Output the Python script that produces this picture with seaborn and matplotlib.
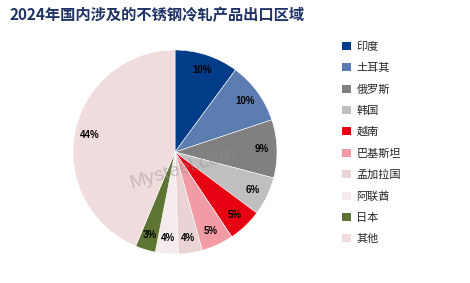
import matplotlib
matplotlib.use("Agg")
import matplotlib.pyplot as plt
from matplotlib.patches import Patch
import seaborn as sns

# Export share by destination (percent), 2024 cold-rolled stainless steel
countries = ["印度", "土耳其", "俄罗斯", "韩国", "越南", "巴基斯坦", "孟加拉国", "阿联酋", "日本", "其他"]
shares = [10.1, 9.8, 9.2, 6.1, 5.4, 5.1, 3.8, 3.6, 3.2, 43.7]
colors = ["#003C87", "#5B7DB1", "#808080", "#BFBFBF", "#E60012",
          "#F19CA5", "#E9D3D5", "#F4ECEC", "#5E7432", "#F0DCDD"]
title = "2024年国内涉及的不锈钢冷轧产品出口区域"

sns.set_theme(style="white")
plt.rcParams["font.family"] = ["Noto Sans CJK SC", "DejaVu Sans"]

W, H = 470, 283
fig = plt.figure(figsize=(W / 100, H / 100), dpi=100)
fig.patch.set_facecolor("white")

# pie axes: centre (175, 152) px, radius 102 px
cx, cy, r = 175, 152, 102
ax = fig.add_axes([(cx - r) / W, (H - cy - r) / H, 2 * r / W, 2 * r / H])
palette = sns.color_palette(colors)
wedges, texts, autotexts = ax.pie(
    shares, colors=palette, startangle=90, counterclock=False,
    autopct="%.0f%%", pctdistance=0.85,
    wedgeprops=dict(linewidth=0.4, edgecolor="white"),
    textprops=dict(fontsize=7, fontweight="bold", color="black",
                   family=["Liberation Sans", "DejaVu Sans"]),
)
ax.set_xlim(-1, 1)
ax.set_ylim(-1, 1)
ax.set_aspect("equal")
ax.axis("off")

# faint site watermark across the pie
ax.text(0.08, -0.16, "Mysteel.com", fontsize=14, color="#909090", alpha=0.45,
        rotation=16, ha="center", va="center", family=["Liberation Sans", "DejaVu Sans"])

fig.text(10 / W, 1 - 15 / H, title, fontsize=11, fontweight="bold",
         color="#1F3265", ha="left", va="center")

handles = [Patch(facecolor=c, edgecolor="none") for c in colors]
fig.legend(handles, countries, loc="upper left",
           bbox_to_anchor=(338 / W, 1 - 37 / H), frameon=False,
           fontsize=8, handlelength=0.75, handleheight=0.75,
           handletextpad=0.5, labelspacing=1.0, borderaxespad=0)

fig.savefig("out.png", dpi=100, facecolor="white")
